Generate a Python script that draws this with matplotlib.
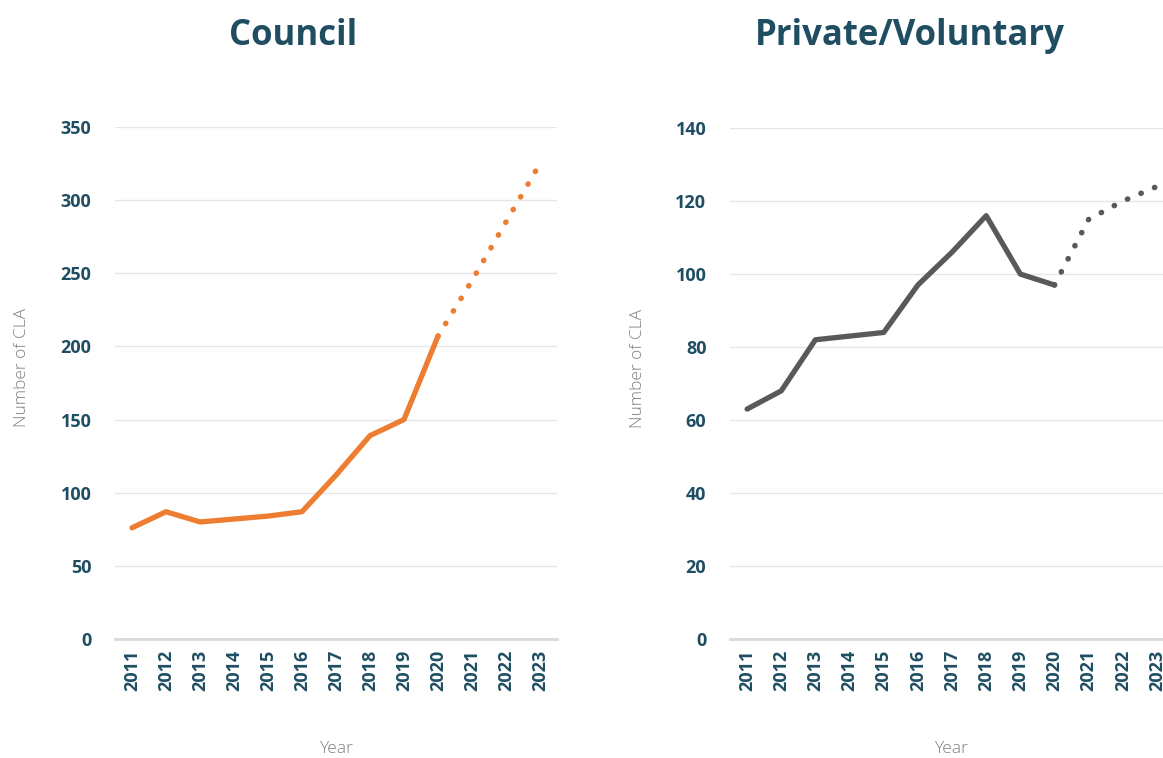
import matplotlib.pyplot as plt

years = ['2011', '2012', '2013', '2014', '2015', '2016', '2017',
         '2018', '2019', '2020', '2021', '2022', '2023']

# actual counts 2011-2020, projected 2020-2023
council_actual = [76, 87, 80, 82, 84, 87, 112, 139, 150, 207]
council_proj = [207, 245, 285, 325]
private_actual = [63, 68, 82, 83, 84, 97, 106, 116, 100, 97]
private_proj = [97, 115, 120, 124]

TEXT = '#1F4E63'
GREY_TXT = '#808080'
GRID = '#E6E6E6'

plt.rcParams['font.family'] = ['Open Sans', 'DejaVu Sans']

fig = plt.figure(figsize=(11.63, 7.58), dpi=100)
ax1 = fig.add_axes([0.0989, 0.157, 0.380, 0.6755])
ax2 = fig.add_axes([0.6277, 0.157, 0.3818, 0.674])


def draw(ax, title, actual, proj, colour, ymax, step):
    xa = list(range(len(actual)))
    xp = list(range(len(actual) - 1, len(actual) - 1 + len(proj)))
    ax.plot(xa, actual, color=colour, lw=3.8, solid_capstyle='round',
            solid_joinstyle='round', zorder=3)
    ax.plot(xp, proj, color=colour, lw=4.0, linestyle=(0, (0.05, 2.6)),
            dash_capstyle='round', zorder=3)
    ax.set_xlim(-0.5, len(years) - 0.5)
    ax.set_ylim(0, ymax)
    ax.set_yticks(range(0, ymax + 1, step))
    ax.set_xticks(range(len(years)))
    ax.set_xticklabels(years, rotation=90)
    ax.grid(axis='y', color=GRID, lw=1)
    ax.set_axisbelow(True)
    for s in ['top', 'right', 'left']:
        ax.spines[s].set_visible(False)
    ax.spines['bottom'].set_color('#D9D9D9')
    ax.spines['bottom'].set_linewidth(2)
    ax.tick_params(length=0, colors=TEXT, labelsize=13, pad=8)
    ax.tick_params(axis='y', pad=17)
    for lab in ax.get_xticklabels() + ax.get_yticklabels():
        lab.set_fontweight('bold')
    ax.set_ylabel('Number of CLA', color=GREY_TXT, fontsize=12.5,
                  fontweight='light')
    ax.set_xlabel('Year', color=GREY_TXT, fontsize=12.5, fontweight='light')


draw(ax1, 'Council', council_actual, council_proj, '#ED7D31', 350, 50)
draw(ax2, 'Private/Voluntary', private_actual, private_proj, '#595959', 140, 20)

ax1.yaxis.set_label_coords(-0.193, 0.53)
ax2.yaxis.set_label_coords(-0.189, 0.53)
ax1.xaxis.set_label_coords(0.5, -0.20)
ax2.xaxis.set_label_coords(0.497, -0.20)

fig.text(0.252, 0.953, 'Council', ha='center', va='center', color=TEXT,
         fontsize=25, fontweight='bold')
fig.text(0.782, 0.953, 'Private/Voluntary', ha='center', va='center',
         color=TEXT, fontsize=25, fontweight='bold')

fig.savefig('out.png', dpi=100)
